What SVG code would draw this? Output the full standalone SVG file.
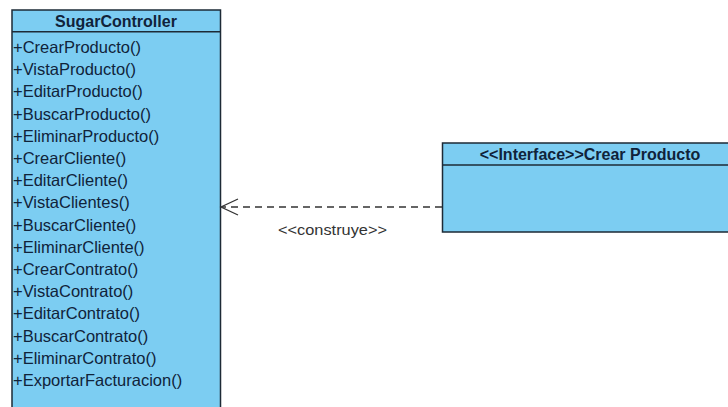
<svg xmlns="http://www.w3.org/2000/svg" width="728" height="407" viewBox="0 0 728 407">
<defs>
<style>
.box{fill:#7ccdf2;stroke:#1d2a36;stroke-width:1.5}
.div{stroke:#1d2a36;stroke-width:1.5}
.title{font-family:"Liberation Sans",Arial,sans-serif;font-size:16px;font-weight:bold;fill:#10233a;text-anchor:middle}
.op{font-family:"Liberation Sans",Arial,sans-serif;font-size:16.5px;fill:#10233a}
.lbl{font-family:"Liberation Sans",Arial,sans-serif;font-size:15px;fill:#333}
.dep{stroke:#333;stroke-width:1.3;fill:none}
</style>
</defs>
<rect width="728" height="407" fill="#ffffff"/>
<g id="SugarController">
<rect class="box" x="12" y="10" width="208.5" height="410"/>
<line class="div" x1="12" y1="31.7" x2="220.5" y2="31.7"/>
<text class="title" x="116" y="26.5">SugarController</text>
<text class="op" x="13" y="53">+CrearProducto()</text>
<text class="op" x="13" y="75.2">+VistaProducto()</text>
<text class="op" x="13" y="97.4">+EditarProducto()</text>
<text class="op" x="13" y="119.6">+BuscarProducto()</text>
<text class="op" x="13" y="141.8">+EliminarProducto()</text>
<text class="op" x="13" y="164">+CrearCliente()</text>
<text class="op" x="13" y="186.2">+EditarCliente()</text>
<text class="op" x="13" y="208.4">+VistaClientes()</text>
<text class="op" x="13" y="230.6">+BuscarCliente()</text>
<text class="op" x="13" y="252.8">+EliminarCliente()</text>
<text class="op" x="13" y="275">+CrearContrato()</text>
<text class="op" x="13" y="297.2">+VistaContrato()</text>
<text class="op" x="13" y="319.4">+EditarContrato()</text>
<text class="op" x="13" y="341.6">+BuscarContrato()</text>
<text class="op" x="13" y="363.8">+EliminarContrato()</text>
<text class="op" x="13" y="386">+ExportarFacturacion()</text>
</g>
<g id="CrearProducto">
<rect class="box" x="442.5" y="143" width="300" height="89"/>
<line class="div" x1="442.5" y1="165" x2="742.5" y2="165"/>
<text class="title" x="590" y="159.5">&lt;&lt;Interface&gt;&gt;Crear Producto</text>
</g>
<g id="connectors">
<line class="dep" x1="442" y1="207" x2="222" y2="207" stroke-dasharray="7,5"/>
<polyline class="dep" points="238,199 221,207 238,215"/>
<text class="lbl" x="278" y="234.5" textLength="109" lengthAdjust="spacingAndGlyphs">&lt;&lt;construye&gt;&gt;</text>
</g>
</svg>
